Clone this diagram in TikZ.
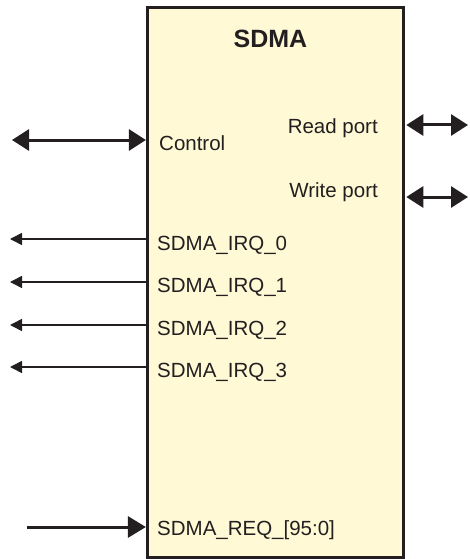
\documentclass[tikz,border=0pt]{standalone}
\usepackage{fontspec}
\setmainfont{Liberation Sans}
\usetikzlibrary{arrows.meta}
\definecolor{ink}{RGB}{35,31,32}
\definecolor{boxfill}{RGB}{255,249,214}
\begin{document}
\begin{tikzpicture}[x=1pt,y=-1pt,
  lbl/.style={inner sep=0pt, text=ink, font=\fontsize{20.5}{24}\selectfont},
  bigarrow/.style={draw=ink, line width=3pt, -{Triangle[length=18pt,width=21pt]}},
  bigboth/.style={draw=ink, line width=3pt, {Triangle[length=17pt,width=21pt]}-{Triangle[length=17pt,width=21pt]}},
  thinarrow/.style={draw=ink, line width=1.5pt, -{Triangle[length=12pt,width=12pt]}}]
\useasboundingbox (0,0) rectangle (469,559);
\node[draw=ink, line width=3pt, fill=boxfill, minimum width=255.9pt, minimum height=549.3pt, inner sep=0pt]
  (sdma) at (275.35,282.35) {};
\node[inner sep=0pt, text=ink, font=\fontsize{25}{28}\selectfont\bfseries, anchor=base] (title) at (270.5,48) {SDMA};
\node[lbl, anchor=base west] (ctl) at (159,150) {Control};
\node[lbl, anchor=base east] (rp) at (378,133) {Read port};
\node[lbl, anchor=base east] (wp) at (378,197) {Write port};
\node[lbl, anchor=base west] (irq0) at (157,250) {SDMA\_IRQ\_0};
\node[lbl, anchor=base west] (irq1) at (157,292.5) {SDMA\_IRQ\_1};
\node[lbl, anchor=base west] (irq2) at (157,335) {SDMA\_IRQ\_2};
\node[lbl, anchor=base west] (irq3) at (157,377.5) {SDMA\_IRQ\_3};
\node[lbl, anchor=base west] (req) at (157,535) {SDMA\_REQ\_[95:0]};
% free ends
\coordinate (ctlEnd) at (12,140);
\coordinate (rpEnd) at (468,125);
\coordinate (wpEnd) at (468,197);
\coordinate (i0End) at (10,239);
\coordinate (i1End) at (10,282);
\coordinate (i2End) at (10,325);
\coordinate (i3End) at (10,367);
\coordinate (reqEnd) at (27,527);
% connectors
\draw[bigboth] (ctlEnd) -- (ctlEnd -| sdma.west);
\draw[bigboth] ([xshift=1.5pt]rpEnd -| sdma.east) -- (rpEnd);
\draw[bigboth] ([xshift=1.5pt]wpEnd -| sdma.east) -- (wpEnd);
\draw[thinarrow] (i0End -| sdma.west) -- (i0End);
\draw[thinarrow] (i1End -| sdma.west) -- (i1End);
\draw[thinarrow] (i2End -| sdma.west) -- (i2End);
\draw[thinarrow] (i3End -| sdma.west) -- (i3End);
\draw[bigarrow] (reqEnd) -- (reqEnd -| sdma.west);
\end{tikzpicture}
\end{document}
